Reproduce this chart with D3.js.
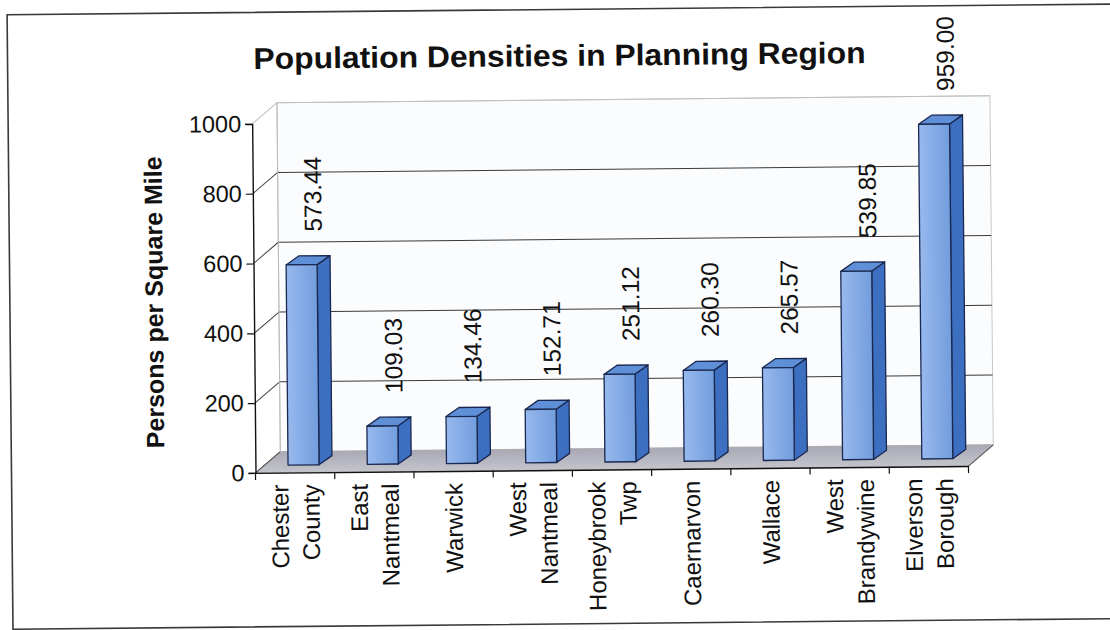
<!DOCTYPE html>
<html>
<head>
<meta charset="utf-8">
<script src="https://cdn.jsdelivr.net/npm/d3@7"></script>
<style>
  html, body { margin: 0; padding: 0; background: #fff; }
  svg { display: block; }
  text { font-family: Arial, "Liberation Sans", Helvetica, sans-serif; fill: #111; }
</style>
</head>
<body>
<svg id="chart" width="1110" height="630"></svg>
<script>
// ---- data ----
const title = "Population Densities in Planning Region";
const yAxisTitle = "Persons per Square Mile";
const categories = ["Chester\nCounty", "East\nNantmeal", "Warwick", "West\nNantmeal",
                    "Honeybrook\nTwp", "Caernarvon", "Wallace", "West\nBrandywine", "Elverson\nBorough"];
const values = [573.44, 109.03, 134.46, 152.71, 251.12, 260.30, 265.57, 539.85, 959.00];
const yTicks = [0, 200, 400, 600, 800, 1000];

// ---- layout ----
const svg = d3.select("#chart");
const defs = svg.append("defs");
const g = svg.append("g").attr("transform", "rotate(-0.55, 555, 315)");

const x = d3.scaleBand().domain(categories).range([254, 967]).paddingInner(0).paddingOuter(0);
const y = d3.scaleLinear().domain([0, 1000]).range([470, 121]);
const depth = { dx: 25, dy: -21 };      // wall depth
const barOff = { dx: 8.5, dy: -7.5 };   // bar front plane offset
const barDepth = { dx: 13, dy: -9 };
const barW = 31;

// frame
g.append("rect").attr("x", 10).attr("y", 9.5).attr("width", 1110).attr("height", 614.5)
  .attr("fill", "none").attr("stroke", "#3a3a3a").attr("stroke-width", 1.6);

// title
g.append("text").attr("x", 562).attr("y", 66).attr("text-anchor", "middle")
  .attr("font-size", 30).attr("font-weight", "bold")
  .attr("textLength", 612).attr("lengthAdjust", "spacingAndGlyphs")
  .text(title);

// back wall
const x0 = x.range()[0], x1 = x.range()[1];
const y0 = y(0), yTop = y(1000);
g.append("rect").attr("x", x0 + depth.dx).attr("y", yTop + depth.dy)
  .attr("width", x1 - x0).attr("height", y0 - yTop)
  .attr("fill", "#fbfcfe").attr("stroke", "#c8c8c8").attr("stroke-width", 1);

// floor
const floorPts = [[x0, y0], [x1, y0], [x1 + depth.dx, y0 + depth.dy], [x0 + depth.dx, y0 + depth.dy]];
const floorGrad = defs.append("linearGradient").attr("id", "floorG")
  .attr("x1", 0).attr("y1", 0).attr("x2", 0).attr("y2", 1);
floorGrad.append("stop").attr("offset", "0%").attr("stop-color", "#a9a9b6");
floorGrad.append("stop").attr("offset", "100%").attr("stop-color", "#c4c4cc");
g.append("polygon").attr("points", floorPts.map(p => p.join(",")).join(" "))
  .attr("fill", "url(#floorG)").attr("stroke", "#aaa").attr("stroke-width", 0.8);

// gridlines on back wall and side wall
yTicks.forEach(t => {
  const yy = y(t);
  const col = (t === 1000) ? "#c0c0c0" : "#3a3a3a";
  if (t !== 0) {
    g.append("line").attr("x1", x0 + depth.dx).attr("x2", x1 + depth.dx)
      .attr("y1", yy + depth.dy).attr("y2", yy + depth.dy)
      .attr("stroke", col).attr("stroke-width", 1);
  }
  g.append("line").attr("x1", x0).attr("y1", yy).attr("x2", x0 + depth.dx).attr("y2", yy + depth.dy)
    .attr("stroke", t === 1000 ? "#bbb" : "#444").attr("stroke-width", 1);
});
// left wall back edge
g.append("line").attr("x1", x0 + depth.dx).attr("x2", x0 + depth.dx)
  .attr("y1", yTop + depth.dy).attr("y2", y0 + depth.dy).attr("stroke", "#bbb");
// floor right edge
g.append("line").attr("x1", x1).attr("y1", y0).attr("x2", x1 + depth.dx).attr("y2", y0 + depth.dy)
  .attr("stroke", "#555").attr("stroke-width", 1);

// bar gradient
const fg = defs.append("linearGradient").attr("id", "frontG").attr("x1", 0).attr("x2", 1).attr("y1", 0).attr("y2", 0);
fg.append("stop").attr("offset", "0%").attr("stop-color", "#97b9ee");
fg.append("stop").attr("offset", "100%").attr("stop-color", "#729ddc");

// bars
const bars = g.append("g");
categories.forEach((c, i) => {
  const v = values[i];
  const cx = x(c) + x.bandwidth() / 2;
  const fx0 = cx + barOff.dx - barW / 2, fx1 = fx0 + barW;
  const yb = y(0) + barOff.dy, yt = y(v) + barOff.dy;
  const bg = bars.append("g").attr("stroke", "#1a2850").attr("stroke-width", 1.3).attr("stroke-linejoin", "round");
  bg.append("polygon")
    .attr("points", [[fx1, yb], [fx1 + barDepth.dx, yb + barDepth.dy], [fx1 + barDepth.dx, yt + barDepth.dy], [fx1, yt]].map(p => p.join(",")).join(" "))
    .attr("fill", "#3d6fc0");
  bg.append("polygon")
    .attr("points", [[fx0, yt], [fx0 + barDepth.dx, yt + barDepth.dy], [fx1 + barDepth.dx, yt + barDepth.dy], [fx1, yt]].map(p => p.join(",")).join(" "))
    .attr("fill", "#5f8fd6");
  bg.append("rect").attr("x", fx0).attr("y", yt).attr("width", barW).attr("height", yb - yt)
    .attr("fill", "url(#frontG)");
});

// value labels
categories.forEach((c, i) => {
  const v = values[i];
  const cx = x(c) + x.bandwidth() / 2 + 20;
  const ys = y(v) + barOff.dy - 33;
  g.append("text")
    .attr("transform", `translate(${cx},${ys}) rotate(-90)`)
    .attr("dy", "0.36em").attr("text-anchor", "start")
    .attr("font-size", 24.5).text(d3.format(".2f")(v));
});

// y axis
const yAxis = d3.axisLeft(y).tickValues(yTicks).tickSize(7).tickPadding(4).tickFormat(d3.format("d"));
const ya = g.append("g").attr("transform", `translate(${x0},0)`).call(yAxis);
ya.select(".domain").attr("stroke", "#111").attr("stroke-width", 1.4);
ya.selectAll(".tick line").attr("stroke", "#111").attr("stroke-width", 1.2);
ya.selectAll(".tick text").attr("font-size", 23.5).attr("fill", "#111")
  .attr("font-family", "Arial, 'Liberation Sans', sans-serif");

// x axis (ticks at category boundaries)
const xa = g.append("g").attr("transform", `translate(0,${y0})`)
  .call(d3.axisBottom(x).tickSize(0).tickFormat(""));
xa.select(".domain").attr("stroke", "#111").attr("stroke-width", 1.4);
const bounds = categories.map(c => x(c)).concat([x1]);
xa.selectAll(".bnd").data(bounds).join("line").attr("class", "bnd")
  .attr("x1", d => d).attr("x2", d => d).attr("y1", 0).attr("y2", 7)
  .attr("stroke", "#111").attr("stroke-width", 1.2);

// x labels
categories.forEach(c => {
  const lines = c.split("\n");
  const cx = x(c) + x.bandwidth() / 2;
  const n = lines.length, gap = 31;
  lines.forEach((ln, j) => {
    const lx = cx + (j - (n - 1) / 2) * gap;
    g.append("text")
      .attr("transform", `translate(${lx},${y0 + 12}) rotate(-90)`)
      .attr("dy", "0.36em").attr("text-anchor", "end")
      .attr("font-size", 24).text(ln);
  });
});

// y axis title
g.append("text")
  .attr("transform", `translate(154,${(y(0) + y(1000)) / 2 + 3}) rotate(-90)`)
  .attr("dy", "0.36em").attr("text-anchor", "middle")
  .attr("font-size", 25).attr("font-weight", "bold").text(yAxisTitle);
</script>
</body>
</html>
